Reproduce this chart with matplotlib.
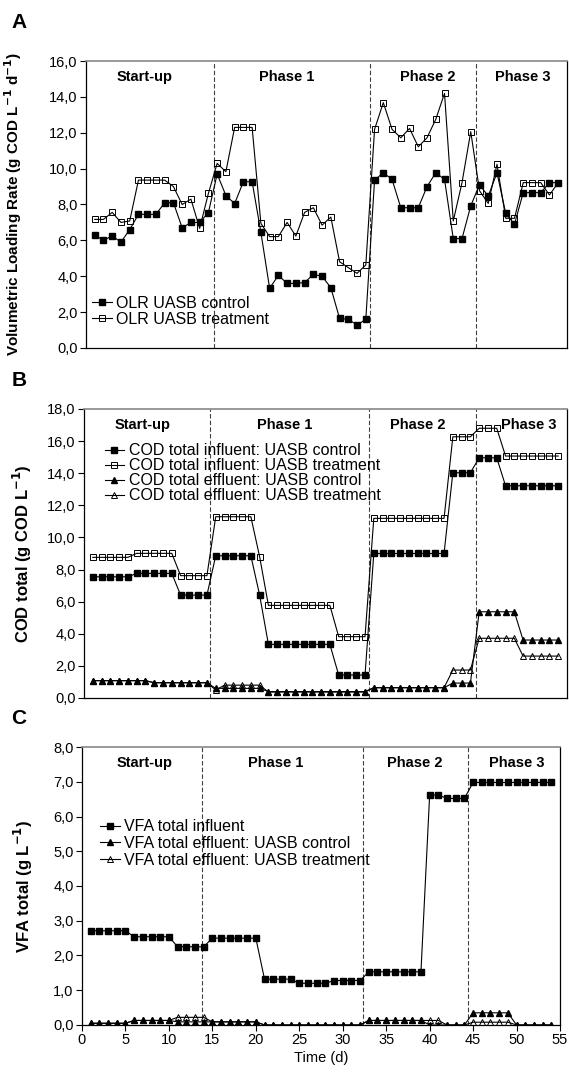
import matplotlib
matplotlib.use("Agg")
import matplotlib.pyplot as plt
from matplotlib.ticker import FuncFormatter, MultipleLocator

plt.rcParams['font.family'] = ['Liberation Sans', 'DejaVu Sans']

days = list(range(1, 55))

# Panel A: OLR (g COD L-1 d-1)
olr_control = [6.3, 6.0, 6.25, 5.9, 6.6, 7.45, 7.45, 7.45, 8.1, 8.1,
               6.7, 7.0, 7.0, 7.55, 9.7, 8.5, 8.05, 9.27, 9.27, 6.45,
               3.33, 4.05, 3.6, 3.6, 3.65, 4.1, 4.0, 3.36, 1.65, 1.6,
               1.28, 1.6, 9.36, 9.77, 9.4, 7.82, 7.82, 7.82, 9.0, 9.77,
               9.4, 6.1, 6.1, 7.93, 9.1, 8.47, 9.77, 7.5, 6.9, 8.66,
               8.66, 8.66, 9.22, 9.22]
olr_treatment = [7.17, 7.17, 7.56, 7.0, 7.08, 9.36, 9.36, 9.36, 9.36, 9.0,
                 8.0, 8.3, 6.67, 8.62, 10.29, 9.83, 12.3, 12.3, 12.3, 6.95,
                 6.21, 6.21, 7.0, 6.24, 7.56, 7.82, 6.85, 7.3, 4.81, 4.48,
                 4.16, 4.63, 12.19, 13.68, 12.19, 11.72, 12.24, 11.22, 11.72, 12.75,
                 14.2, 7.08, 9.22, 12.06, 8.77, 8.06, 10.24, 7.23, 7.23, 9.22,
                 9.22, 9.22, 8.53, 9.22]

# Panel B: COD total (g COD L-1)
cod_inf_control = [7.55]*5 + [7.76]*5 + [6.41]*4 + [8.86]*5 + [6.41] + [3.34]*8 + \
                  [1.43]*4 + [9.0]*9 + [14.03]*3 + [14.96]*3 + [13.22]*7
cod_inf_treatment = [8.76]*5 + [9.01]*5 + [7.62]*4 + [11.29]*5 + [8.8] + [5.77]*8 + \
                    [3.82]*4 + [11.19]*9 + [16.27]*3 + [16.8]*3 + [15.07]*7
cod_eff_control = [1.08]*7 + [0.95]*7 + [0.6]*6 + [0.4]*12 + [0.64]*9 + [0.93]*3 + \
                  [5.37]*5 + [3.61]*5
cod_eff_treatment = [1.08]*7 + [0.95]*7 + [0.5] + [0.8]*5 + [0.37]*12 + [0.64]*9 + [1.74]*3 + \
                    [3.72]*5 + [2.61]*5

# Panel C: VFA total (g L-1)
vfa_influent = [2.71]*5 + [2.54]*5 + [2.25]*4 + [2.5]*6 + [1.32]*4 + [1.2]*4 + \
               [1.28]*4 + [1.53]*7 + [6.62]*2 + [6.52]*3 + [6.98]*10
vfa_eff_control = [0.05]*5 + [0.13]*5 + [0.09]*4 + [0.09]*6 + [0.0]*12 + [0.13]*7 + \
                  [0.0]*5 + [0.35]*5 + [0.0]*5
vfa_eff_treatment = [0.05]*5 + [0.13]*5 + [0.22]*4 + [0.09]*6 + [0.0]*12 + [0.13]*9 + \
                    [0.0]*3 + [0.08]*5 + [0.0]*5

phase_labels = ["Start-up", "Phase 1", "Phase 2", "Phase 3"]

fig = plt.figure(figsize=(5.69, 10.82), dpi=100)

axA = fig.add_axes([0.1511, 0.6784, 0.8453, 0.2652])
axB = fig.add_axes([0.1476, 0.3549, 0.8489, 0.2671])
axC = fig.add_axes([0.1441, 0.0527, 0.8401, 0.2569])

fmt = FuncFormatter(lambda v, p: f"{v:.1f}".replace('.', ','))

common = dict(color='black', lw=0.8)
sq_f = dict(marker='s', ms=4.5, mfc='black', mec='black')
sq_o = dict(marker='s', ms=4.5, mfc='none', mec='black', mew=0.7)
tr_f = dict(marker='^', ms=5, mfc='black', mec='black')
tr_o = dict(marker='^', ms=5, mfc='none', mec='black', mew=0.7)

LEG_FS = 11.5
TICK_FS = 10.5
YLAB_FS = 12


def style(ax, ymax, ystep, phase_x, label_pos, label_y, xticks):
    ax.set_xlim(0, 55)
    ax.set_ylim(0, ymax)
    ax.yaxis.set_major_locator(MultipleLocator(ystep))
    ax.yaxis.set_major_formatter(fmt)
    ax.tick_params(axis='y', direction='out', length=4, width=0.8, labelsize=TICK_FS, pad=2)
    for s in ['left', 'bottom', 'right']:
        ax.spines[s].set_color('black')
        ax.spines[s].set_linewidth(0.9)
    ax.spines['top'].set_color('#888888')
    ax.spines['top'].set_linewidth(1.2)
    if xticks:
        ax.xaxis.set_major_locator(MultipleLocator(5))
        ax.tick_params(axis='x', direction='out', length=4, width=0.8, labelsize=TICK_FS, pad=2)
    else:
        ax.set_xticks([])
    for px in phase_x:
        ax.axvline(px, color='0.25', lw=0.8, ls=(0, (4, 2)), zorder=1)
    for lab, lx in zip(phase_labels, label_pos):
        ax.text(lx, label_y, lab, ha='center', va='center', fontsize=10.5, fontweight='bold')


# Panel A
axA.plot(days, olr_control, label='OLR UASB control', **common, **sq_f)
axA.plot(days, olr_treatment, label='OLR UASB treatment', **common, **sq_o)
style(axA, 16, 2, [14.6, 32.5, 44.6], [6.7, 22.9, 39.1, 50.0], 15.1, False)
axA.set_ylabel(r'Volumetric Loading Rate (g COD L$^{\mathbf{-1}}$ d$^{\mathbf{-1}}$)',
               fontsize=11, fontweight='bold')
axA.yaxis.set_label_coords(-0.128, 0.5)
axA.legend(loc='lower left', bbox_to_anchor=(-0.01, 0.035), frameon=False, fontsize=LEG_FS,
           handlelength=1.2, handletextpad=0.3, labelspacing=0.05, borderpad=0.2)

# Panel B
axB.plot(days, cod_inf_control, label='COD total influent: UASB control', **common, **sq_f)
axB.plot(days, cod_inf_treatment, label='COD total influent: UASB treatment', **common, **sq_o)
axB.plot(days, cod_eff_control, label='COD total effluent: UASB control', **common, **tr_f)
axB.plot(days, cod_eff_treatment, label='COD total effluent: UASB treatment', **common, **tr_o)
style(axB, 18, 2, [14.3, 32.4, 44.6], [6.7, 22.9, 38.0, 50.6], 17.0, False)
axB.set_ylabel(r'COD total (g COD L$^{\mathbf{-1}}$)', fontsize=YLAB_FS, fontweight='bold')
axB.yaxis.set_label_coords(-0.103, 0.5)
axB.legend(loc='upper left', bbox_to_anchor=(0.02, 0.92), frameon=False, fontsize=LEG_FS,
           handlelength=1.2, handletextpad=0.3, labelspacing=0.0, borderpad=0.2)

# Panel C
axC.plot(days, vfa_influent, label='VFA total influent', **common, **sq_f)
axC.plot(days, vfa_eff_control, label='VFA total effluent: UASB control', **common, **tr_f)
axC.plot(days, vfa_eff_treatment, label='VFA total effluent: UASB treatment', **common, **tr_o)
style(axC, 8, 1, [13.8, 32.3, 44.4], [7.2, 22.3, 38.3, 50.0], 7.55, True)
axC.set_ylabel(r'VFA total (g L$^{\mathbf{-1}}$)', fontsize=YLAB_FS, fontweight='bold')
axC.yaxis.set_label_coords(-0.099, 0.5)
axC.set_xlabel('Time (d)', fontsize=10.5, labelpad=3)
axC.legend(loc='upper left', bbox_to_anchor=(0.015, 0.78), frameon=False, fontsize=LEG_FS,
           handlelength=1.2, handletextpad=0.3, labelspacing=0.1, borderpad=0.2)

fig.text(19 / 569, 1 - 23 / 1082, 'A', fontsize=15, fontweight='bold', ha='center', va='center')
fig.text(19 / 569, 1 - 381 / 1082, 'B', fontsize=15, fontweight='bold', ha='center', va='center')
fig.text(19 / 569, 1 - 718 / 1082, 'C', fontsize=15, fontweight='bold', ha='center', va='center')

fig.savefig('out.png', dpi=100)
